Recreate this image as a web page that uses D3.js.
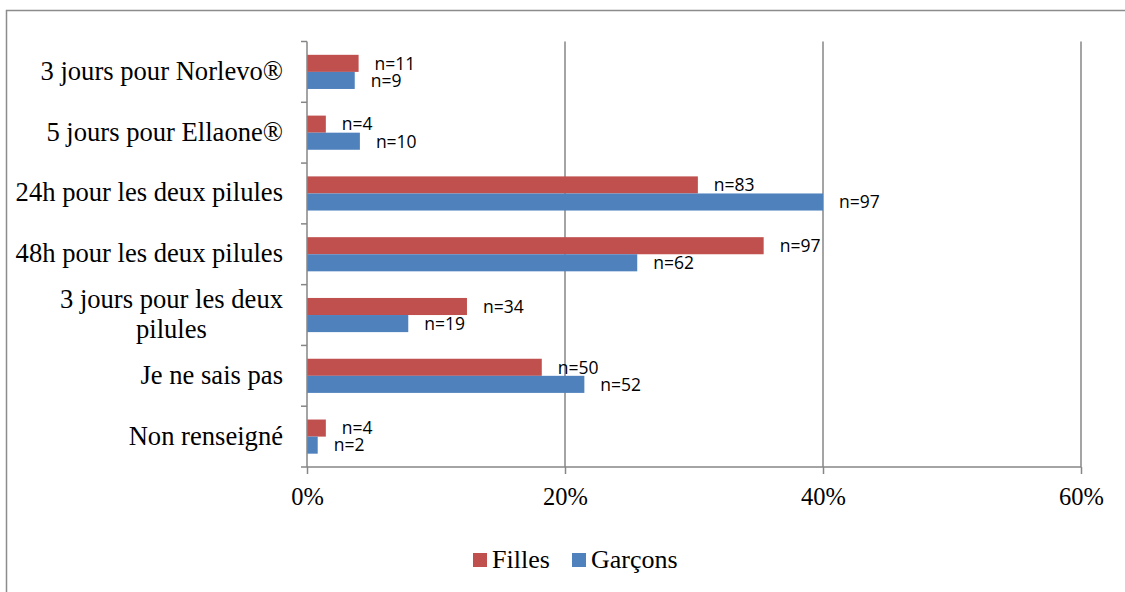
<!DOCTYPE html>
<html>
<head>
<meta charset="utf-8">
<script src="https://cdn.jsdelivr.net/npm/d3@7"></script>
<style>
  body { margin: 0; background: #fff; }
  svg { display: block; }
</style>
</head>
<body>
<div id="chart"></div>
<script>
const categories = [
    "3 jours pour Norlevo®",
    "5 jours pour Ellaone®",
    "24h pour les deux pilules",
    "48h pour les deux pilules",
    "3 jours pour les deux pilules",
    "Je ne sais pas",
    "Non renseigné"
];
const series = ["Filles", "Garçons"];
const filles = [4.0, 1.46, 30.3, 35.4, 12.4, 18.2, 1.46];
const garcons = [3.7, 4.1, 40.0, 25.6, 7.85, 21.5, 0.83];
const fillesN = [11, 4, 83, 97, 34, 50, 4];
const garconsN = [9, 10, 97, 62, 19, 52, 2];
const xTicks = [0, 20, 40, 60];

const colors = { "Filles": "#C0504D", "Garçons": "#4F81BD" };
const width = 1125, height = 592;
const margin = { top: 41.5, left: 307, right: 44, bottom: 125 };

const svg = d3.select("#chart").append("svg")
    .attr("width", width)
    .attr("height", height);

// outer frame (runs past right and bottom edges)
svg.append("rect")
    .attr("x", 6.5).attr("y", 10.5)
    .attr("width", 1140).attr("height", 620)
    .attr("fill", "none")
    .attr("stroke", "#8c8c8c")
    .attr("stroke-width", 1.5);

const x = d3.scaleLinear()
    .domain([0, 60])
    .range([margin.left, width - margin.right]);

const y = d3.scaleBand()
    .domain(categories)
    .range([margin.top, height - margin.bottom]);

const ySub = d3.scaleBand()
    .domain(series)
    .range([0, y.bandwidth()])
    .paddingOuter(0.78);

const rows = categories.map((c, i) => ({
    cat: c,
    vals: [
        { s: "Filles", v: filles[i], n: fillesN[i] },
        { s: "Garçons", v: garcons[i], n: garconsN[i] }
    ]
}));

// gridlines
svg.append("g")
    .selectAll("line")
    .data(xTicks.slice(1))
    .join("line")
    .attr("x1", d => x(d)).attr("x2", d => x(d))
    .attr("y1", margin.top).attr("y2", height - margin.bottom)
    .attr("stroke", "#868686")
    .attr("stroke-width", 1.5);

// bars
const groups = svg.append("g")
    .selectAll("g")
    .data(rows)
    .join("g")
    .attr("transform", d => `translate(0,${y(d.cat)})`);

groups.selectAll("rect")
    .data(d => d.vals)
    .join("rect")
    .attr("x", x(0))
    .attr("y", d => ySub(d.s))
    .attr("width", d => x(d.v) - x(0))
    .attr("height", ySub.bandwidth())
    .attr("fill", d => colors[d.s]);

groups.selectAll("text")
    .data(d => d.vals)
    .join("text")
    .attr("x", d => x(d.v) + 16)
    .attr("y", d => ySub(d.s) + ySub.bandwidth() / 2)
    .attr("dy", "0.36em")
    .attr("font-family", "'Open Sans', sans-serif")
    .attr("font-size", 17.5)
    .attr("fill", "#000")
    .text(d => `n=${d.n}`);

// y axis
const yAxis = svg.append("g")
    .attr("transform", `translate(${x(0)},0)`);
yAxis.append("line")
    .attr("x1", 0).attr("x2", 0)
    .attr("y1", margin.top).attr("y2", height - margin.bottom)
    .attr("stroke", "#868686").attr("stroke-width", 1.5);
yAxis.selectAll(".tick")
    .data(categories)
    .join("line")
    .attr("class", "tick")
    .attr("x1", -6).attr("x2", 0)
    .attr("y1", d => y(d)).attr("y2", d => y(d))
    .attr("stroke", "#868686").attr("stroke-width", 1.5);

// category labels, wrapped and centred like Excel
const labelRight = 283, maxLabel = 285, fs = 26.6, lineH = 30;
const labels = svg.append("g")
    .attr("font-family", "'Liberation Serif', 'Times New Roman', serif")
    .attr("font-size", fs)
    .attr("fill", "#000");

categories.forEach(c => {
    const t = labels.append("text").attr("text-anchor", "middle");
    const words = c.split(" ");
    let lines = [], cur = [];
    const probe = labels.append("text");
    words.forEach(w => {
        const test = cur.concat([w]).join(" ");
        probe.text(test);
        if (probe.node().getComputedTextLength() > maxLabel && cur.length) {
            lines.push(cur.join(" "));
            cur = [w];
        } else {
            cur.push(w);
        }
    });
    lines.push(cur.join(" "));
    let widest = 0;
    lines.forEach(l => {
        probe.text(l);
        widest = Math.max(widest, probe.node().getComputedTextLength());
    });
    probe.remove();
    const cx = labelRight - widest / 2;
    const cy = y(c) + y.bandwidth() / 2;
    lines.forEach((l, i) => {
        t.append("tspan")
            .attr("x", cx)
            .attr("y", cy + (i - (lines.length - 1) / 2) * lineH + fs * 0.3)
            .text(l);
    });
});

// x axis
const xAxis = d3.axisBottom(x)
    .tickValues(xTicks)
    .tickFormat(d => d + "%")
    .tickSize(7)
    .tickPadding(14);

const xg = svg.append("g")
    .attr("transform", `translate(0,${height - margin.bottom})`)
    .call(xAxis);
xg.select(".domain").remove();
xg.append("line")
    .attr("x1", x(0) - 6).attr("x2", x(60))
    .attr("stroke", "#868686").attr("stroke-width", 1.5);
xg.selectAll(".tick line").attr("stroke", "#868686").attr("stroke-width", 1.5);
xg.selectAll(".tick text")
    .attr("font-family", "'Liberation Serif', 'Times New Roman', serif")
    .attr("font-size", 24.5)
    .attr("fill", "#000");

// legend
const legend = svg.append("g")
    .attr("font-family", "'Liberation Serif', 'Times New Roman', serif")
    .attr("font-size", 26);
const legX = [473, 572];
series.forEach((s, i) => {
    legend.append("rect")
        .attr("x", legX[i]).attr("y", 553)
        .attr("width", 14).attr("height", 14)
        .attr("fill", colors[s]);
    legend.append("text")
        .attr("x", legX[i] + 19).attr("y", 568)
        .text(s);
});
</script>
</body>
</html>
